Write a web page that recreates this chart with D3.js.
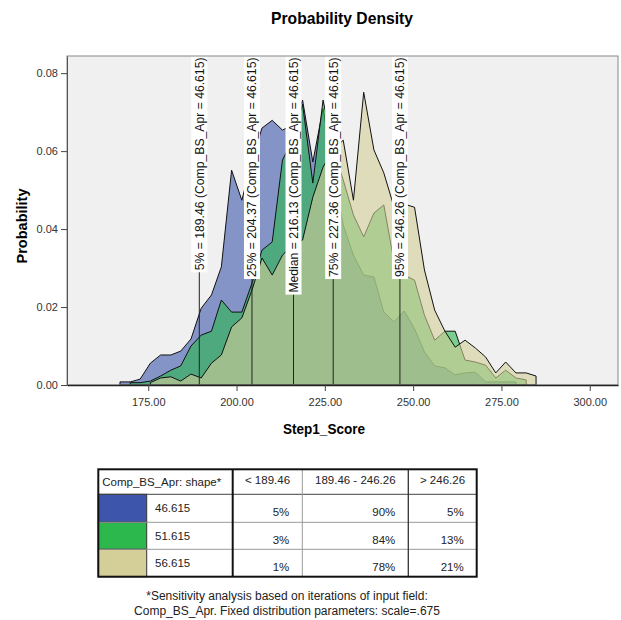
<!DOCTYPE html>
<html>
<head>
<meta charset="utf-8">
<script src="https://cdn.jsdelivr.net/npm/d3@7"></script>
<style>
  body { margin: 0; background: #fff; }
  svg { display: block; font-family: "Liberation Sans", Arial, sans-serif; }
</style>
</head>
<body>
<div id="chart"></div>
<script>
// x positions of the density polygon vertices (Step1_Score)
const scoreGrid = [167.0, 169.9, 172.7, 175.6, 178.5, 181.4, 184.2, 187.1, 190.0, 192.9,
  195.7, 198.6, 201.5, 204.4, 207.2, 210.1, 213.0, 215.9, 218.7, 221.6,
  224.5, 227.4, 230.2, 233.1, 236.0, 238.9, 241.7, 244.6, 247.5, 250.4,
  253.2, 256.1, 259.0, 261.9, 264.7, 267.6, 270.5, 273.4, 276.2, 279.1,
  282.0, 284.8];

// probability per vertex, one list per shape value (starting at grid index seriesStart)
const shapes = ['46.615', '51.615', '56.615'];
const seriesStart = [0, 1, 3];
const probBlue = [0.0008, 0.0008, 0.0015, 0.0056, 0.0077, 0.0077, 0.0087, 0.0118, 0.0197, 0.0231,
  0.0303, 0.0551, 0.0474, 0.0577, 0.0659, 0.0679, 0.0654, 0.0667, 0.0731, 0.0572,
  0.0710, 0.0551, 0.0410, 0.0333, 0.0282, 0.0277, 0.0187, 0.0162, 0.0190, 0.0144,
  0.0085, 0.0049, 0.0044, 0.0026, 0.0031, 0.0033, 0.0008, 0.0008, 0.0008, 0.0008];
const probGreen = [0.0006, 0.0006, 0.0010, 0.0023, 0.0038, 0.0049, 0.0100, 0.0128, 0.0138,
  0.0218, 0.0187, 0.0187, 0.0262, 0.0346, 0.0367, 0.0577, 0.0628, 0.0720, 0.0518,
  0.0731, 0.0603, 0.0526, 0.0436, 0.0380, 0.0441, 0.0462, 0.0315, 0.0282, 0.0269,
  0.0179, 0.0115, 0.0138, 0.0138, 0.0064, 0.0059, 0.0051, 0.0018, 0.0038, 0.0018, 0.0013];
const probTan = [0.0006, 0.0018, 0.0021, 0.0010, 0.0028, 0.0018, 0.0056, 0.0077,
  0.0149, 0.0172, 0.0244, 0.0326, 0.0282, 0.0333, 0.0359, 0.0372, 0.0482, 0.0559,
  0.0603, 0.0628, 0.0474, 0.0751, 0.0603, 0.0544, 0.0456, 0.0464, 0.0456, 0.0295,
  0.0192, 0.0138, 0.0097, 0.0115, 0.0095, 0.0072, 0.0031, 0.0059, 0.0031, 0.0031, 0.0023];
const seriesColors = ['#3d56ac', '#2cb84c', '#d4cf98'];

// percentiles for shape 46.615
const quantileNames = ['5%', '25%', 'Median', '75%', '95%'];
const quantileValues = [189.46, 204.37, 216.13, 227.36, 246.26];

const xTicks = [175, 200, 225, 250, 275, 300];
const yTicks = [0, 0.02, 0.04, 0.06, 0.08];

// table
const tableHeader = ['Comp_BS_Apr: shape*', '< 189.46', '189.46 - 246.26', '> 246.26'];
const pctLow = ['5%', '3%', '1%'];
const pctMid = ['90%', '84%', '78%'];
const pctHigh = ['5%', '13%', '21%'];
const footnote = ['*Sensitivity analysis based on iterations of input field:',
  'Comp_BS_Apr. Fixed distribution parameters: scale=.675'];

const W = 621;
const H = 620;
const plot = { left: 67, right: 618, top: 56, bottom: 385 };

const $svg = d3.select('#chart').append('svg').attr('width', W).attr('height', H);

const x = d3.scaleLinear().domain([152, 308]).range([plot.left, plot.right]);
const y = d3.scaleLinear().domain([0, 0.0844]).range([plot.bottom, plot.top]);

// title
$svg.append('text')
  .attr('x', 342).attr('y', 24)
  .attr('text-anchor', 'middle')
  .style('font-size', '17px').style('font-weight', 'bold')
  .attr('textLength', 142).attr('lengthAdjust', 'spacingAndGlyphs')
  .text('Probability Density');

// plot background
$svg.append('rect')
  .attr('x', plot.left).attr('y', plot.top)
  .attr('width', plot.right - plot.left).attr('height', plot.bottom - plot.top)
  .attr('fill', '#f0f0f0');

$svg.append('clipPath').attr('id', 'clip')
  .append('rect')
  .attr('x', plot.left).attr('y', plot.top)
  .attr('width', plot.right - plot.left).attr('height', plot.bottom - plot.top);

const $vis = $svg.append('g').attr('clip-path', 'url(#clip)');

const series = [probBlue, probGreen, probTan].map((vals, k) => ({
  color: seriesColors[k],
  points: vals.map((p, i) => [scoreGrid[seriesStart[k] + i], p]),
}));

const area = d3.area()
  .x(d => x(d[0]))
  .y0(y(0))
  .y1(d => y(d[1]));

$vis.selectAll('path.density')
  .data(series)
  .join('path')
  .attr('class', 'density')
  .attr('d', d => area(d.points))
  .attr('fill', d => d.color)
  .attr('fill-opacity', 0.6)
  .attr('stroke', '#111')
  .attr('stroke-width', 1)
  .attr('stroke-linejoin', 'round');

// percentile markers
const labelTop = plot.top + 1.5;
const $q = $vis.selectAll('g.q')
  .data(quantileValues)
  .join('g')
  .attr('class', 'q');

$q.append('line')
  .attr('x1', d => x(d)).attr('x2', d => x(d))
  .attr('y1', labelTop).attr('y2', plot.bottom)
  .attr('stroke', '#222').attr('stroke-width', 1);

const $lab = $q.append('g')
  .attr('transform', d => `translate(${x(d)},${labelTop}) rotate(-90)`);
$lab.append('rect').attr('fill', '#fff');
const $txt = $lab.append('text')
  .attr('text-anchor', 'end')
  .attr('dy', '0.36em')
  .style('font-size', '12.2px')
  .attr('fill', '#111')
  .text((d, i) => `${quantileNames[i]} = ${d3.format('.2f')(d)} (Comp_BS_Apr = ${shapes[0]})`);
$txt.each(function () {
  const b = this.getBBox();
  d3.select(this.previousSibling)
    .attr('x', b.x - 2).attr('y', -8)
    .attr('width', b.width + 3).attr('height', 16);
});

// frame
$svg.append('rect')
  .attr('x', plot.left).attr('y', plot.top)
  .attr('width', plot.right - plot.left).attr('height', plot.bottom - plot.top)
  .attr('fill', 'none').attr('stroke', '#888').attr('stroke-width', 1);

// axes
const $xAxis = $svg.append('g')
  .attr('transform', `translate(0,${plot.bottom})`)
  .call(d3.axisBottom(x).tickValues(xTicks).tickFormat(d3.format('.2f')).tickSize(6).tickSizeOuter(0));
const $yAxis = $svg.append('g')
  .attr('transform', `translate(${plot.left},0)`)
  .call(d3.axisLeft(y).tickValues(yTicks).tickFormat(d3.format('.2f')).tickSize(6).tickSizeOuter(0));

[$xAxis, $yAxis].forEach($a => {
  $a.select('.domain').attr('stroke', '#555');
  $a.selectAll('.tick line').attr('stroke', '#444');
  $a.selectAll('.tick text')
    .style('font-size', '11px')
    .style('font-family', '"Liberation Sans", Arial, sans-serif')
    .attr('fill', '#333');
});
$xAxis.select('.domain').attr('stroke', '#222').attr('stroke-width', 1.5);
$xAxis.selectAll('.tick text').attr('dy', '1.1em');

$svg.append('text')
  .attr('x', 324).attr('y', 434)
  .attr('text-anchor', 'middle')
  .style('font-size', '15px').style('font-weight', 'bold')
  .attr('textLength', 82).attr('lengthAdjust', 'spacingAndGlyphs')
  .text('Step1_Score');

$svg.append('text')
  .attr('transform', 'translate(27,226) rotate(-90)')
  .attr('text-anchor', 'middle')
  .style('font-size', '15px').style('font-weight', 'bold')
  .attr('textLength', 75).attr('lengthAdjust', 'spacingAndGlyphs')
  .text('Probability');

// summary table
const colX = [98.3, 146.7, 232.7, 302.3, 408.3, 476.7];
const rowY = [469.3, 494.3, 522.3, 549.3, 576.7];
const $tbl = $svg.append('g').style('font-size', '11.5px').attr('fill', '#222');

$tbl.append('rect')
  .attr('x', colX[0]).attr('y', rowY[0])
  .attr('width', colX[5] - colX[0]).attr('height', rowY[4] - rowY[0])
  .attr('fill', '#fff');

$tbl.selectAll('rect.swatch')
  .data(seriesColors)
  .join('rect')
  .attr('class', 'swatch')
  .attr('x', colX[0]).attr('y', (d, i) => rowY[i + 1])
  .attr('width', colX[1] - colX[0]).attr('height', (d, i) => rowY[i + 2] - rowY[i + 1])
  .attr('fill', d => d)
  .attr('stroke', '#333').attr('stroke-width', 1);

// thin grid lines
[1, 2, 3].forEach(r => {
  $tbl.append('line')
    .attr('x1', colX[0]).attr('x2', colX[5])
    .attr('y1', rowY[r]).attr('y2', rowY[r])
    .attr('stroke', r === 1 ? '#444' : '#999');
});
$tbl.append('line')
  .attr('x1', colX[3]).attr('x2', colX[3]).attr('y1', rowY[0]).attr('y2', rowY[4])
  .attr('stroke', '#999');
$tbl.append('line')
  .attr('x1', colX[4]).attr('x2', colX[4]).attr('y1', rowY[0]).attr('y2', rowY[4])
  .attr('stroke', '#333').attr('stroke-width', 1.3);
$tbl.append('line')
  .attr('x1', colX[2]).attr('x2', colX[2]).attr('y1', rowY[0]).attr('y2', rowY[4])
  .attr('stroke', '#111').attr('stroke-width', 2);
$tbl.append('rect')
  .attr('x', colX[0]).attr('y', rowY[0])
  .attr('width', colX[5] - colX[0]).attr('height', rowY[4] - rowY[0])
  .attr('fill', 'none').attr('stroke', '#111').attr('stroke-width', 2);

// header
$tbl.append('text').attr('x', colX[0] + 4).attr('y', rowY[0] + 17).text(tableHeader[0]);
[1, 2, 3].forEach(c => {
  $tbl.append('text')
    .attr('x', (colX[c + 1] + colX[c + 2]) / 2).attr('y', rowY[0] + 15)
    .attr('text-anchor', 'middle')
    .text(tableHeader[c]);
});

// body
shapes.forEach((s, i) => {
  const top = rowY[i + 1];
  $tbl.append('text').attr('x', 155).attr('y', top + 18).text(s);
  [pctLow[i], pctMid[i], pctHigh[i]].forEach((p, c) => {
    $tbl.append('text')
      .attr('x', colX[c + 3] - 13).attr('y', top + 22)
      .attr('text-anchor', 'end')
      .text(p);
  });
});

// footnote
$svg.selectAll('text.foot')
  .data(footnote)
  .join('text')
  .attr('class', 'foot')
  .attr('x', 287).attr('y', (d, i) => 600 + i * 15)
  .attr('text-anchor', 'middle')
  .style('font-size', '12px')
  .attr('fill', '#222')
  .text(d => d);
</script>
</body>
</html>
